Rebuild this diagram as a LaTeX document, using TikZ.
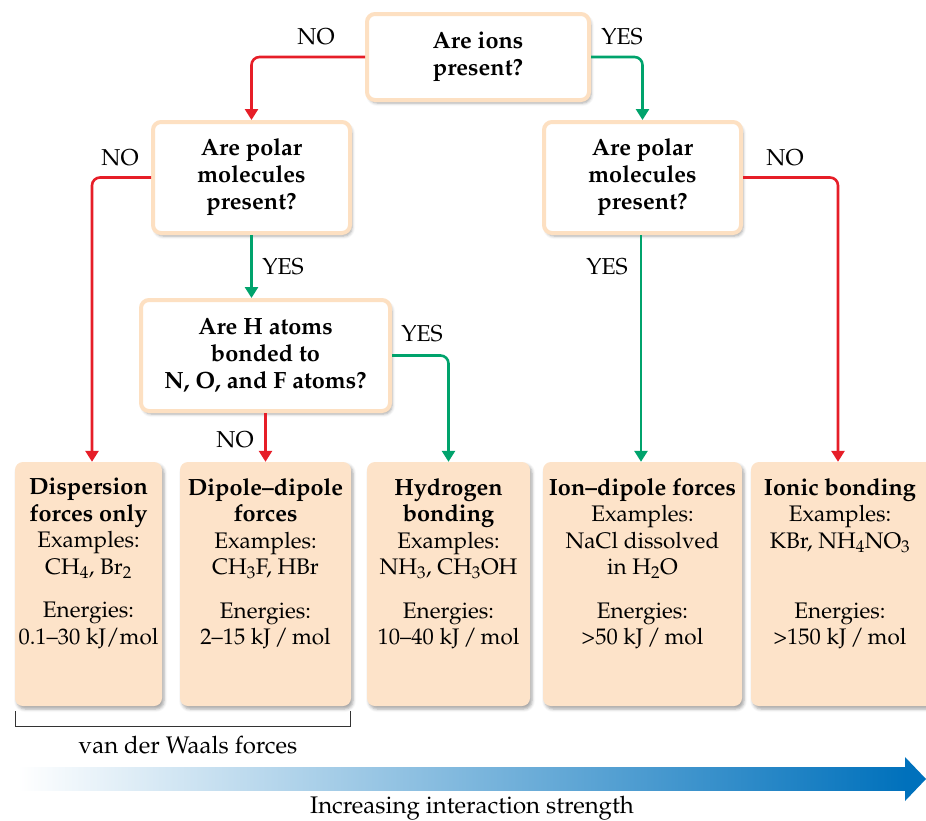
\documentclass[tikz,border=0pt]{standalone}
\usepackage[T1]{fontenc}
\usepackage{mathpazo}
\usetikzlibrary{shadows.blur, arrows.meta}
\definecolor{nored}{HTML}{E61E28}
\definecolor{yesgreen}{HTML}{00A36C}
\definecolor{peach}{HTML}{FDE3C9}
\definecolor{peachline}{HTML}{FDE0C2}
\definecolor{arrowblue}{HTML}{0071BC}
\definecolor{midblue}{HTML}{A3BCE2}
\tikzset{
  shad/.style={blur shadow={shadow xshift=2pt, shadow yshift=-3pt, shadow blur radius=3pt, shadow opacity=35}},
  qbox/.style={draw=peachline, line width=4pt, fill=white, rounded corners=8pt, shad,
    align=center, font=\fontsize{23.5}{27}\selectfont\bfseries, inner sep=0pt},
  abox/.style={fill=peach, rounded corners=8pt, shad, inner sep=0pt},
  atext/.style={align=center, font=\fontsize{22.5}{26.5}\selectfont, anchor=north, inner sep=0pt},
  conn/.style={line width=2.6pt, rounded corners=8pt, -{Triangle[length=11pt,width=13pt]}},
  nol/.style={conn, draw=nored},
  yesl/.style={conn, draw=yesgreen},
  lab/.style={font=\fontsize{23}{26}\selectfont, inner sep=0pt}
}
\newcommand{\ttl}[1]{{\fontsize{23.5}{26.5}\selectfont\bfseries #1}}
\begin{document}
\begin{tikzpicture}[x=1pt, y=-1pt]
\useasboundingbox (0,0) rectangle (926,820);
% decision boxes
\node[qbox, minimum width=222pt, minimum height=86pt] (q1) at (478,57) {Are ions\\present?};
\node[qbox, minimum width=197pt, minimum height=111pt] (q2) at (251.5,177.5) {Are polar\\molecules\\present?};
\node[qbox, minimum width=197pt, minimum height=111pt] (q3) at (642.5,177.5) {Are polar\\molecules\\present?};
\node[qbox, minimum width=249pt, minimum height=111pt] (q4) at (265.5,355.5) {Are H atoms\\bonded to\\N, O, and F atoms?};
% answer boxes
\node[abox, minimum width=147pt, minimum height=244pt] (b1) at (88.5,584) {};
\node[abox, minimum width=171pt, minimum height=244pt] (b2) at (265.5,584) {};
\node[abox, minimum width=163pt, minimum height=244pt] (b3) at (448.5,584) {};
\node[abox, minimum width=199pt, minimum height=244pt] (b4) at (642.5,584) {};
\node[abox, minimum width=186pt, minimum height=244pt] (b5) at (844,584) {};
\node[atext] (t1) at (88.5,478) {\ttl{Dispersion}\\\ttl{forces only}\\Examples:\\CH$_4$, Br$_2$\\[17pt]Energies:\\0.1--30 kJ/mol};
\node[atext] (t2) at (265.5,478) {\ttl{Dipole--dipole}\\\ttl{forces}\\Examples:\\CH$_3$F, HBr\\[17pt]Energies:\\2--15 kJ\,/\,mol};
\node[atext] (t3) at (448.5,478) {\ttl{Hydrogen}\\\ttl{bonding}\\Examples:\\NH$_3$, CH$_3$OH\\[17pt]Energies:\\10--40 kJ\,/\,mol};
\node[atext] (t4) at (642.5,478) {\ttl{Ion--dipole forces}\\Examples:\\NaCl dissolved\\in H$_2$O\\[17pt]Energies:\\\textgreater50 kJ\,/\,mol};
\node[atext] (t5) at (840,478) {\ttl{Ionic bonding}\\Examples:\\KBr, NH$_4$NO$_3$\\[43.5pt]Energies:\\\textgreater150 kJ\,/\,mol};
% connectors
\draw[nol] (q1.west) -| (q2.north);
\draw[yesl] (q1.east) -| (q3.north);
\draw[nol] (q2.west) -| (b1.north -| 92,0);
\draw[yesl] (q2.south) -- (q4.north -| q2.south);
\draw[yesl] (q4.east) -| (b3.north);
\draw[nol] (q4.south) -- (b2.north -| q4.south);
\draw[yesl] (q3.south -| 641,0) -- (b4.north -| 641,0);
\draw[nol] (q3.east) -| (b5.north -| 838,0);
% labels
\node[lab] (l1) at (316,37) {NO};
\node[lab] (l2) at (622,37) {YES};
\node[lab] (l3) at (120,158) {NO};
\node[lab] (l4) at (283,267) {YES};
\node[lab] (l5) at (422,334) {YES};
\node[lab] (l6) at (235,440) {NO};
\node[lab] (l7) at (607,267) {YES};
\node[lab] (l8) at (785,158) {NO};
% bracket
\coordinate (k1) at (15,711);
\coordinate (k2) at (15,726);
\coordinate (k3) at (350,726);
\coordinate (k4) at (350,711);
\draw[line width=0.8pt, black!80] (k1) -- (k2) -- (k3) -- (k4);
\node[lab, font=\fontsize{24}{26}\selectfont] (vdw) at (188,745) {van der Waals forces};
% gradient arrow
\shade[left color=white, middle color=midblue, right color=arrowblue] (18,767) rectangle (906,790);
\fill[arrowblue] (905,757) -- (926,779) -- (905,801) -- cycle;
\node[lab, font=\fontsize{24}{26}\selectfont] (inc) at (472,808) {Increasing interaction strength};
\end{tikzpicture}
\end{document}
